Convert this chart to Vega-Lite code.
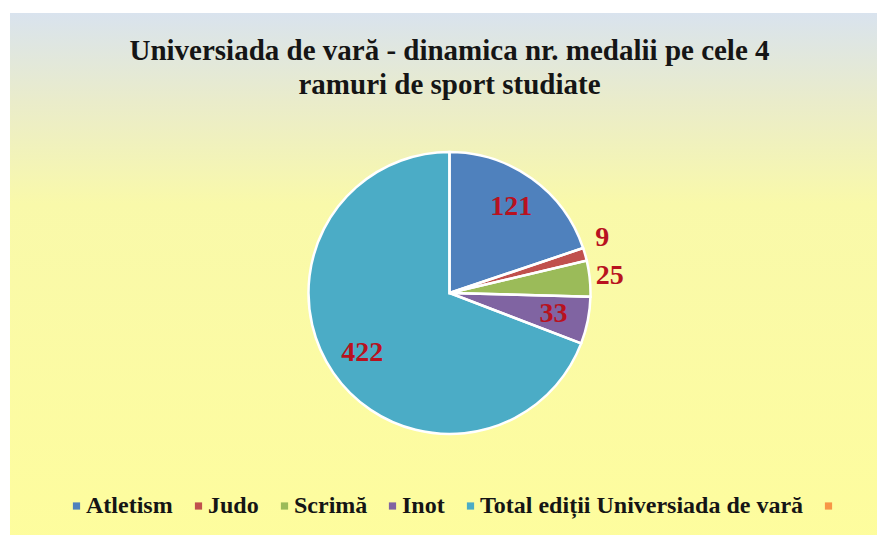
{
  "$schema": "https://vega.github.io/schema/vega-lite/v6.json",
  "width": 877,
  "height": 535,
  "autosize": {"type": "fit", "contains": "padding"},
  "padding": {"left": 10, "top": 13, "right": -12, "bottom": -38},
  "background": "white",
  "config": {"view": {"stroke": null}},
  "title": {
    "text": ["Universiada de vară - dinamica nr. medalii pe cele 4", "ramuri de sport studiate"],
    "font": "Liberation Serif",
    "fontSize": 29,
    "fontWeight": "bold",
    "color": "#151515",
    "lineHeight": 34,
    "anchor": "middle",
    "baseline": "top",
    "offset": -87
  },
  "data": {
    "values": [
      {"categorie": "Atletism", "medalii": 121, "ordine": 1},
      {"categorie": "Judo", "medalii": 9, "ordine": 2},
      {"categorie": "Scrimă", "medalii": 25, "ordine": 3},
      {"categorie": "Inot", "medalii": 33, "ordine": 4},
      {"categorie": "Total ediții Universiada de vară", "medalii": 422, "ordine": 5}
    ]
  },
  "layer": [
    {
      "data": {"values": [{"fundal": 1}]},
      "mark": {
        "type": "rect",
        "fill": {
          "gradient": "linear",
          "x1": 0, "y1": 0, "x2": 0, "y2": 1,
          "stops": [
            {"offset": 0, "color": "#d9e3ee"},
            {"offset": 0.16, "color": "#eaecca"},
            {"offset": 0.34, "color": "#f9f9aa"},
            {"offset": 1, "color": "#fefd9c"}
          ]
        }
      },
      "encoding": {
        "x": {"value": 0},
        "x2": {"value": "width"},
        "y": {"value": 0},
        "y2": {"value": "height"}
      }
    },
    {
      "mark": {"type": "arc", "outerRadius": 141},
      "encoding": {
        "theta": {"field": "medalii", "type": "quantitative", "stack": true},
        "order": {"field": "ordine", "type": "quantitative"},
        "color": {
          "field": "categorie",
          "type": "nominal",
          "scale": {
            "domain": ["Atletism", "Judo", "Scrimă", "Inot", "Total ediții Universiada de vară", " "],
            "range": ["#4f81bd", "#c0504d", "#9bbb59", "#8064a2", "#4bacc6", "#f79646"]
          },
          "legend": {
            "title": null,
            "orient": "none",
            "direction": "horizontal",
            "legendX": 54.5,
            "legendY": 481,
            "padding": 0,
            "symbolType": "square",
            "symbolSize": 52,
            "symbolStrokeWidth": 0,
            "labelFont": "Liberation Serif",
            "labelFontSize": 24,
            "labelFontWeight": "bold",
            "labelColor": "#151515",
            "labelOffset": -2.5,
            "columnPadding": 13,
            "labelLimit": 500
          }
        }
      }
    },
    {
      "mark": {"type": "arc", "outerRadius": 141, "fill": null, "stroke": "white", "strokeWidth": 2.5},
      "encoding": {
        "theta": {"field": "medalii", "type": "quantitative", "stack": true},
        "order": {"field": "ordine", "type": "quantitative"}
      }
    },
    {
      "mark": {"type": "text", "radius": 106, "font": "Liberation Serif", "fontSize": 28, "fontWeight": "bold", "fill": "#b8121f", "align": "center", "baseline": "middle"},
      "encoding": {
        "theta": {"field": "medalii", "type": "quantitative", "stack": true},
        "order": {"field": "ordine", "type": "quantitative"},
        "text": {"condition": {"test": "datum.medalii > 30", "field": "medalii", "type": "quantitative"}, "value": ""}
      }
    },
    {
      "mark": {"type": "text", "radius": 161, "font": "Liberation Serif", "fontSize": 28, "fontWeight": "bold", "fill": "#b8121f", "align": "center", "baseline": "middle"},
      "encoding": {
        "theta": {"field": "medalii", "type": "quantitative", "stack": true},
        "order": {"field": "ordine", "type": "quantitative"},
        "text": {"condition": {"test": "datum.medalii <= 30 && datum.medalii >= 10", "field": "medalii", "type": "quantitative"}, "value": ""}
      }
    },
    {
      "mark": {"type": "text", "radius": 161, "dy": -11, "dx": -2, "font": "Liberation Serif", "fontSize": 28, "fontWeight": "bold", "fill": "#b8121f", "align": "center", "baseline": "middle"},
      "encoding": {
        "theta": {"field": "medalii", "type": "quantitative", "stack": true},
        "order": {"field": "ordine", "type": "quantitative"},
        "text": {"condition": {"test": "datum.medalii < 10", "field": "medalii", "type": "quantitative"}, "value": ""}
      }
    }
  ]
}
